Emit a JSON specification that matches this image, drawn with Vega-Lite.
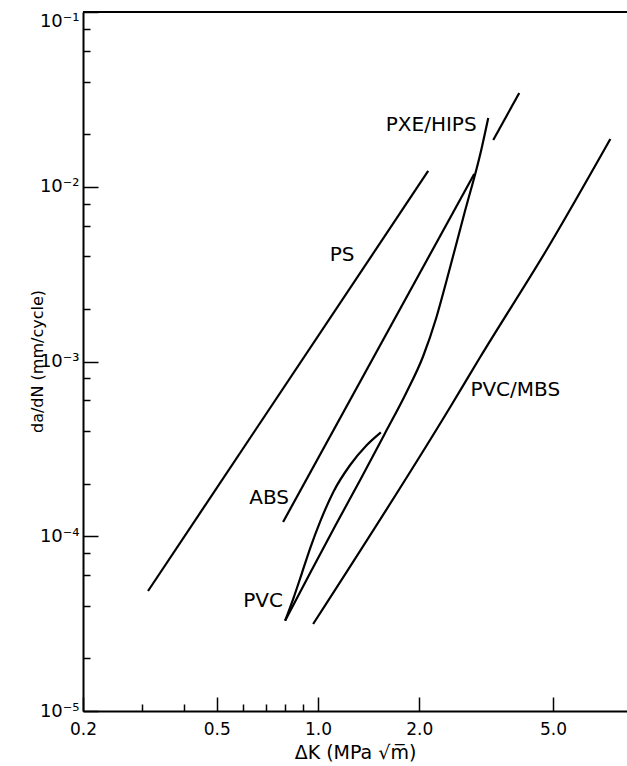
{
  "$schema": "https://vega.github.io/schema/vega-lite/v6.json",
  "width": 544,
  "height": 699,
  "autosize": {"type": "none"},
  "padding": {"left": 83, "top": 12, "right": 0, "bottom": 55},
  "background": "white",
  "config": {"view": {"stroke": null}, "font": "DejaVu Sans"},
  "datasets": {
    "curves": [
      {"series": "PS", "i": 0, "dK": 0.3122, "rate": 4.86e-5},
      {"series": "PS", "i": 1, "dK": 2.127, "rate": 1.231e-2},
      {"series": "ABS", "i": 0, "dK": 0.7874, "rate": 1.207e-4},
      {"series": "ABS", "i": 1, "dK": 2.915, "rate": 1.183e-2},
      {"series": "PVC/MBS", "i": 0, "dK": 0.9672, "rate": 3.147e-5},
      {"series": "PVC/MBS", "i": 1, "dK": 2.474, "rate": 5.49e-4},
      {"series": "PVC/MBS", "i": 2, "dK": 3.038, "rate": 1.061e-3},
      {"series": "PVC/MBS", "i": 3, "dK": 4.842, "rate": 4.52e-3},
      {"series": "PVC/MBS", "i": 4, "dK": 7.405, "rate": 1.876e-2},
      {"series": "PVC", "i": 0, "dK": 0.7985, "rate": 3.286e-5},
      {"series": "PVC", "i": 1, "dK": 0.845, "rate": 4.415e-5},
      {"series": "PVC", "i": 2, "dK": 0.8953, "rate": 6.138e-5},
      {"series": "PVC", "i": 3, "dK": 0.9476, "rate": 8.531e-5},
      {"series": "PVC", "i": 4, "dK": 1.0149, "rate": 1.212e-4},
      {"series": "PVC", "i": 5, "dK": 1.1117, "rate": 1.798e-4},
      {"series": "PVC", "i": 6, "dK": 1.2464, "rate": 2.557e-4},
      {"series": "PVC", "i": 7, "dK": 1.3976, "rate": 3.329e-4},
      {"series": "PVC", "i": 8, "dK": 1.5382, "rate": 3.934e-4},
      {"series": "PXE/HIPS", "i": 0, "dK": 0.7985, "rate": 3.286e-5},
      {"series": "PXE/HIPS", "i": 1, "dK": 0.9476, "rate": 6.162e-5},
      {"series": "PXE/HIPS", "i": 2, "dK": 1.1247, "rate": 1.145e-4},
      {"series": "PXE/HIPS", "i": 3, "dK": 1.335, "rate": 2.098e-4},
      {"series": "PXE/HIPS", "i": 4, "dK": 1.584, "rate": 3.898e-4},
      {"series": "PXE/HIPS", "i": 5, "dK": 1.829, "rate": 6.6e-4},
      {"series": "PXE/HIPS", "i": 6, "dK": 2.056, "rate": 1.075e-3},
      {"series": "PXE/HIPS", "i": 7, "dK": 2.247, "rate": 1.774e-3},
      {"series": "PXE/HIPS", "i": 8, "dK": 2.406, "rate": 2.85e-3},
      {"series": "PXE/HIPS", "i": 9, "dK": 2.722, "rate": 6.984e-3},
      {"series": "PXE/HIPS", "i": 10, "dK": 3.059, "rate": 1.623e-2},
      {"series": "PXE/HIPS", "i": 11, "dK": 3.209, "rate": 2.473e-2},
      {"series": "PXE/HIPS upper", "i": 0, "dK": 3.321, "rate": 1.852e-2},
      {"series": "PXE/HIPS upper", "i": 1, "dK": 3.968, "rate": 3.44e-2}
    ],
    "labels": [
      {"label": "PS", "dK": 1.18, "rate": 4.07e-3},
      {"label": "ABS", "dK": 0.7156, "rate": 1.656e-4},
      {"label": "PVC", "dK": 0.6866, "rate": 4.261e-5},
      {"label": "PXE/HIPS", "dK": 2.171, "rate": 2.256e-2},
      {"label": "PVC/MBS", "dK": 3.861, "rate": 6.87e-4}
    ]
  },
  "resolve": {"axis": {"x": "independent", "y": "independent"}},
  "layer": [
    {
      "data": {"name": "curves"},
      "mark": {"type": "line", "color": "black", "strokeWidth": 2.2, "interpolate": "monotone"},
      "encoding": {
        "x": {
          "field": "dK", "type": "quantitative",
          "scale": {"type": "log", "domain": [0.2, 8.3], "nice": false},
          "axis": {
            "orient": "bottom",
            "values": [0.2, 0.5, 1, 2, 5],
            "labelExpr": "datum.value==0.2?'0.2':datum.value==0.5?'0.5':datum.value==1?'1.0':datum.value==2?'2.0':datum.value==5?'5.0':''",
            "ticks": false, "tickSize": 0,
            "domainColor": "black", "domainWidth": 2,
            "labelPadding": 10, "labelFontSize": 17, "labelFont": "DejaVu Sans", "labelColor": "black",
            "labelFlush": false, "labelOverlap": false, "labelBaseline": "top",
            "grid": false,
            "title": "ΔK (MPa √m̅)", "titleFont": "DejaVu Sans", "titleFontSize": 19, "titleFontWeight": "normal", "titleColor": "black",
            "titleX": 272, "titleY": 41, "titleBaseline": "middle", "titleAlign": "center"
          }
        },
        "y": {
          "field": "rate", "type": "quantitative",
          "scale": {"type": "log", "domain": [1e-5, 0.1], "nice": false},
          "axis": {
            "orient": "left",
            "values": [1e-5, 1e-4, 0.001, 0.01, 0.1],
            "labelExpr": "abs(log(datum.value)/LN10+1)<0.01?'10⁻¹':abs(log(datum.value)/LN10+2)<0.01?'10⁻²':abs(log(datum.value)/LN10+3)<0.01?'10⁻³':abs(log(datum.value)/LN10+4)<0.01?'10⁻⁴':abs(log(datum.value)/LN10+5)<0.01?'10⁻⁵':''",
            "ticks": false, "tickSize": 0,
            "domainColor": "black", "domainWidth": 2,
            "labelPadding": 4, "labelFontSize": 18, "labelFont": "DejaVu Sans", "labelColor": "black",
            "labelFlush": false, "labelOverlap": false, "labelAlign": "right",
            "labelBaseline": {"condition": {"test": "datum.value>0.09", "value": "top"}, "value": "middle"},
            "grid": false,
            "title": "da/dN (mm/cycle)", "titleFont": "DejaVu Sans", "titleFontSize": 16, "titleFontWeight": "normal", "titleColor": "black",
            "titleX": -46, "titleY": 349, "titleBaseline": "middle", "titleAlign": "center", "titleAngle": -90
          }
        },
        "detail": {"field": "series"},
        "order": {"field": "i"}
      }
    },
    {
      "data": {"name": "labels"},
      "mark": {"type": "text", "font": "DejaVu Sans", "fontSize": 20, "align": "center", "baseline": "middle", "color": "black"},
      "encoding": {
        "x": {
          "field": "dK", "type": "quantitative",
          "axis": {
            "orient": "top", "offset": -699,
            "values": [0.2, 0.3, 0.4, 0.5, 0.6, 0.7, 0.8, 0.9, 1, 2, 5],
            "labels": false, "domain": false, "grid": false, "title": null,
            "tickColor": "black", "tickWidth": 1.5,
            "tickSize": {"condition": {"test": "datum.value==0.2||datum.value==0.5||datum.value==1||datum.value==2||datum.value==5", "value": 14}, "value": 7}
          }
        },
        "y": {
          "field": "rate", "type": "quantitative",
          "axis": {
            "orient": "right", "offset": -544,
            "values": [1e-5, 2e-5, 4e-5, 6e-5, 8e-5, 1e-4, 2e-4, 4e-4, 6e-4, 8e-4, 0.001, 0.002, 0.004, 0.006, 0.008, 0.01, 0.02, 0.04, 0.06, 0.08, 0.1],
            "labels": false, "domain": false, "grid": false, "title": null,
            "tickColor": "black", "tickWidth": 1.5,
            "tickSize": {"condition": {"test": "abs(log(datum.value)/LN10-round(log(datum.value)/LN10))<0.01", "value": 15}, "value": 7}
          }
        },
        "text": {"field": "label"}
      }
    },
    {
      "data": {"values": [{}]},
      "mark": {"type": "rule", "color": "black", "strokeWidth": 2},
      "encoding": {"y": {"datum": 0.1, "type": "quantitative", "axis": null}}
    }
  ]
}
